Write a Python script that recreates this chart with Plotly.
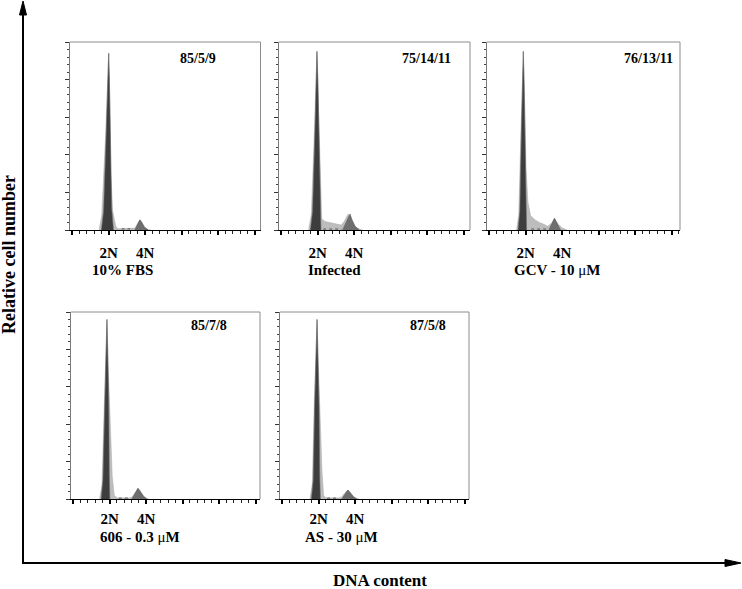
import plotly.graph_objects as go

W, H = 742, 589

# panel labels
conditions = ['10% FBS', 'Infected', 'GCV - 10 μM', '606 - 0.3 μM', 'AS - 30 μM']
ratios = ['85/5/9', '75/14/11', '76/13/11', '85/7/8', '87/5/8']

# x ticks (DNA channel)
major_ticks = [0, 200, 400, 600, 800, 1000]
major_text = ['', '2N', '4N', '', '', '']

# histogram outlines: whole profile (light), G1 (dark), G2 (mid), S base line
fbs_all_x = [148, 162, 184, 196, 200, 207, 212, 222, 240, 255, 330, 344, 360, 371, 385, 400, 417, 430]
fbs_all_y = [0, 8, 52, 90, 94, 65, 30, 10, 1.5, 0.6, 0.6, 1, 3.8, 5.4, 3.5, 1.2, 0.3, 0]
fbs_g1_x = [160, 172, 186, 196, 200, 204, 209, 216, 226]
fbs_g1_y = [0, 10, 50, 85, 94, 80, 50, 12, 0]
fbs_g2_x = [344, 356, 365, 371, 380, 395, 417]
fbs_g2_y = [0, 2.5, 4.5, 5.4, 4.3, 1.5, 0]
fbs_s_x = [271, 317]
fbs_s_y = [0.6, 0.6]

inf_all_x = [150, 165, 182, 194, 196, 203, 210, 216, 222, 240, 270, 300, 330, 345, 367, 385, 400, 420, 445]
inf_all_y = [0, 8, 52, 90, 95, 70, 45, 15, 6, 4.5, 3.8, 3, 2.6, 4.5, 8.5, 4, 2, 0.8, 0]
inf_g1_x = [160, 172, 184, 192, 196, 201, 208, 214, 218]
inf_g1_y = [0, 10, 50, 85, 95, 80, 50, 12, 0]
inf_g2_x = [337, 350, 365, 377, 388, 405, 428]
inf_g2_y = [0, 3, 6.5, 8.5, 5.5, 2, 0]
inf_s_x = [230, 330]
inf_s_y = [0.5, 0.5]

gcv_all_x = [150, 162, 174, 184, 187, 194, 202, 212, 227, 250, 275, 300, 320, 340, 358, 380, 400, 428]
gcv_all_y = [0, 8, 52, 90, 95, 70, 33, 15, 7.6, 5.5, 4, 3, 2, 3.5, 6.2, 3, 1, 0]
gcv_g1_x = [158, 168, 176, 184, 187, 191, 196, 201, 205]
gcv_g1_y = [0, 10, 50, 85, 95, 80, 50, 12, 0]
gcv_g2_x = [327, 340, 352, 358, 366, 378, 391]
gcv_g2_y = [0, 2.5, 5.2, 6.2, 4.5, 2, 0]
gcv_s_x = [230, 320]
gcv_s_y = [0.5, 0.5]

c606_all_x = [145, 158, 171, 182, 185, 192, 204, 214, 225, 240, 310, 322, 340, 355, 372, 390, 404, 415]
c606_all_y = [0, 8, 52, 90, 96, 70, 32, 12, 2, 0.6, 0.6, 1, 3.5, 5.7, 3, 1, 0.3, 0]
c606_g1_x = [153, 163, 173, 182, 185, 189, 195, 198, 201]
c606_g1_y = [0, 10, 50, 85, 96, 80, 50, 12, 0]
c606_g2_x = [322, 335, 347, 355, 365, 385, 404]
c606_g2_y = [0, 2.5, 4.8, 5.7, 4.5, 1.5, 0]
c606_s_x = [250, 305]
c606_s_y = [0.5, 0.5]

as_all_x = [152, 165, 176, 187, 191, 198, 209, 218, 227, 240, 310, 325, 345, 360, 375, 395, 410, 420]
as_all_y = [0, 8, 52, 90, 96, 72, 40, 15, 2, 0.6, 0.6, 1, 3.5, 4.8, 3, 1, 0.3, 0]
as_g1_x = [160, 170, 178, 187, 191, 195, 202, 206, 209]
as_g1_y = [0, 10, 50, 85, 96, 80, 50, 12, 0]
as_g2_x = [327, 340, 352, 360, 370, 390, 409]
as_g2_y = [0, 2, 4, 4.8, 3.8, 1.2, 0]
as_s_x = [246, 309]
as_s_y = [0.5, 0.5]

panels = [
    (fbs_all_x, fbs_all_y, fbs_g1_x, fbs_g1_y, fbs_g2_x, fbs_g2_y, fbs_s_x, fbs_s_y),
    (inf_all_x, inf_all_y, inf_g1_x, inf_g1_y, inf_g2_x, inf_g2_y, inf_s_x, inf_s_y),
    (gcv_all_x, gcv_all_y, gcv_g1_x, gcv_g1_y, gcv_g2_x, gcv_g2_y, gcv_s_x, gcv_s_y),
    (c606_all_x, c606_all_y, c606_g1_x, c606_g1_y, c606_g2_x, c606_g2_y, c606_s_x, c606_s_y),
    (as_all_x, as_all_y, as_g1_x, as_g1_y, as_g2_x, as_g2_y, as_s_x, as_s_y),
]

# panel boxes in pixels: left, right, top, bottom
boxes = [(70, 260.5, 42, 230), (279, 470, 42, 230), (487, 680, 42, 230),
         (71, 260, 312, 499), (280, 469, 312, 499)]
standoff = [5, 5, 5, 2, 2]
ratio_pos = [(198, 58), (426, 58), (648, 58), (209, 325), (428, 325)]
cond_pos = [(122, 270), (334, 270), (557, 270), (140, 537), (341, 537)]

FONT = 'Liberation Serif'


def px(x):
    return x / W


def py(y):
    return 1 - y / H


def bold_label(s):
    # the micro sign is not bold in the original
    return '<b>' + s.replace('μ', '</b>μ<b>') + '</b>'


def label(text, x, y, size, angle=0):
    return dict(text=text, x=px(x), y=py(y), xref='paper', yref='paper',
                xanchor='center', yanchor='middle', showarrow=False, textangle=angle,
                font=dict(family=FONT, size=size, color='black'))


fig = go.Figure()
layout = dict(width=W, height=H, margin=dict(l=0, r=0, t=0, b=0),
              paper_bgcolor='white', plot_bgcolor='white', showlegend=False,
              font=dict(family=FONT, color='black'))
shapes = []
annotations = []

for i, (all_x, all_y, g1_x, g1_y, g2_x, g2_y, s_x, s_y) in enumerate(panels):
    n = '' if i == 0 else str(i + 1)
    xa, ya = 'x' + n, 'y' + n
    fig.add_trace(go.Scatter(x=all_x, y=all_y, mode='lines', fill='tozeroy',
                             fillcolor='#bdbdbd', line=dict(color='#a8a8a8', width=0.5),
                             xaxis=xa, yaxis=ya, hoverinfo='skip'))
    fig.add_trace(go.Scatter(x=s_x, y=s_y, mode='lines',
                             line=dict(color='#555555', width=1, dash='dot'),
                             xaxis=xa, yaxis=ya, hoverinfo='skip'))
    fig.add_trace(go.Scatter(x=g1_x, y=g1_y, mode='lines', fill='tozeroy',
                             fillcolor='#3d3d3d', line=dict(color='#6a6a6a', width=0.6),
                             xaxis=xa, yaxis=ya, hoverinfo='skip'))
    fig.add_trace(go.Scatter(x=g2_x, y=g2_y, mode='lines', fill='tozeroy',
                             fillcolor='#6e6e6e', line=dict(color='#5a5a5a', width=0.6),
                             xaxis=xa, yaxis=ya, hoverinfo='skip'))

    l, r, t, b = boxes[i]
    x0 = -12
    x1 = x0 + (r - l) * 5.48
    layout['xaxis' + n] = dict(
        domain=[px(l), px(r)], anchor=ya, range=[x0, x1],
        showline=True, linecolor='black', linewidth=1.2, showgrid=False, zeroline=False,
        tickmode='array', tickvals=major_ticks, ticktext=major_text,
        ticks='outside', ticklen=4, tickwidth=2.2, tickcolor='black',
        ticklabelstandoff=standoff[i],
        tickfont=dict(family=FONT, size=15, color='black', weight='bold'),
        minor=dict(tickmode='linear', tick0=0, dtick=40, ticks='outside',
                   ticklen=2.5, tickwidth=1, tickcolor='#222222', showgrid=False),
        fixedrange=True)
    layout['yaxis' + n] = dict(
        domain=[py(b), py(t)], anchor=xa, range=[0, 100],
        showline=True, linecolor='#7a7a7a', linewidth=1, showgrid=False, zeroline=False,
        tickmode='linear', tick0=0, dtick=20, ticks='outside', ticklen=4,
        tickwidth=1.2, tickcolor='#333333', showticklabels=False,
        minor=dict(tickmode='linear', tick0=0, dtick=4, ticks='outside',
                   ticklen=2.5, tickwidth=1, tickcolor='#444444', showgrid=False),
        fixedrange=True)

    # grey frame on top and right
    shapes.append(dict(type='line', xref=xa + ' domain', yref=ya + ' domain',
                       x0=0, x1=1, y0=1, y1=1, line=dict(color='#8c8c8c', width=1)))
    shapes.append(dict(type='line', xref=xa + ' domain', yref=ya + ' domain',
                       x0=1, x1=1, y0=0, y1=1, line=dict(color='#8c8c8c', width=1)))

    rx, ry = ratio_pos[i]
    annotations.append(label('<b>' + ratios[i] + '</b>', rx, ry, 14))
    cx, cy = cond_pos[i]
    annotations.append(label(bold_label(conditions[i]), cx, cy, 15))

# big outer axes with arrows
ax_x, ax_y = 23, 563
shapes.append(dict(type='line', xref='paper', yref='paper', x0=px(ax_x), x1=px(ax_x),
                   y0=py(ax_y), y1=py(12), line=dict(color='black', width=2)))
shapes.append(dict(type='line', xref='paper', yref='paper', x0=px(ax_x - 1), x1=px(728),
                   y0=py(ax_y), y1=py(ax_y), line=dict(color='black', width=2)))
shapes.append(dict(type='path', xref='paper', yref='paper',
                   path=f'M {px(ax_x - 3.5)} {py(15)} L {px(ax_x)} {py(1)} L {px(ax_x + 3.5)} {py(15)} Z',
                   fillcolor='black', line=dict(color='black', width=1)))
shapes.append(dict(type='path', xref='paper', yref='paper',
                   path=f'M {px(725)} {py(ax_y - 3.5)} L {px(741)} {py(ax_y)} L {px(725)} {py(ax_y + 3.5)} Z',
                   fillcolor='black', line=dict(color='black', width=1)))

annotations.append(label('<b>Relative cell number</b>', 9, 255, 18, angle=-90))
annotations.append(label('<b>DNA content</b>', 380, 580, 17))

layout['shapes'] = shapes
layout['annotations'] = annotations
fig.update_layout(**layout)

# page body has an 8px default margin; drop it so the figure sits at the window's corner
fig.write_html('out.html', config={'displayModeBar': False},
               post_script="document.body.style.margin='0';")
